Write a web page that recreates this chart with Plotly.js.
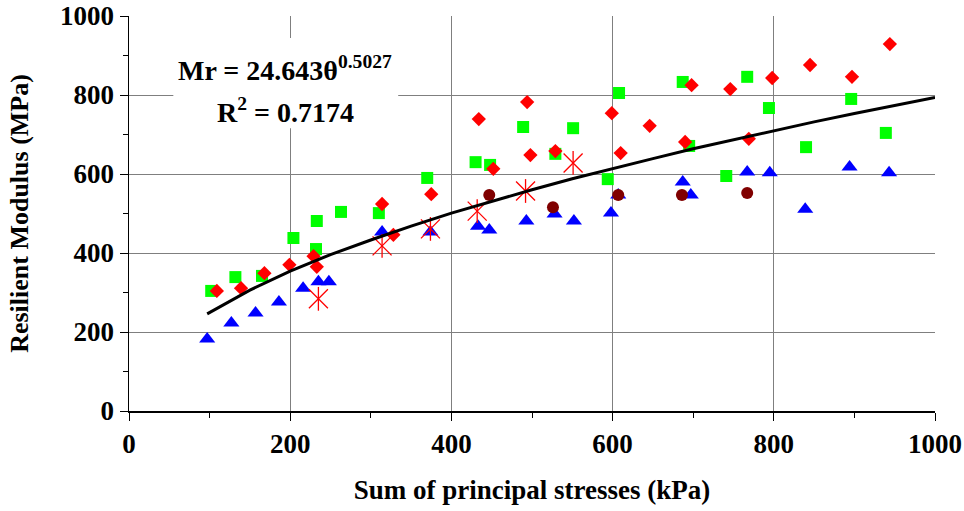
<!DOCTYPE html>
<html>
<head>
<meta charset="utf-8">
<script src="https://cdn.plot.ly/plotly-3.0.1.min.js"></script>
<style>html,body{margin:0;padding:0;background:#fff;}#chart{width:964px;height:511px;}</style>
</head>
<body>
<div id="chart"></div>
<script>
// Green squares
const greenX = [102,132,165,204,233,232,263,310,370,430,448,489,529,551,594,608,687,695,741,767,794,840,896,939];
const greenY = [304,339,342,438,481,410,504,501,590,630,623,719,651,716,587,805,833,671,595,846,767,668,790,704];
// Blue triangles
const blueX = [97,127,157,186,216,235,248,314,374,433,447,493,528,552,598,607,687,697,767,795,839,894,943];
const blueY = [182,223,248,276,311,327,327,453,453,468,458,481,499,481,501,547,580,547,605,603,511,618,603];
// Red diamonds
const redX = [109,139,168,199,229,233,314,328,375,434,452,494,498,529,599,610,646,690,698,746,769,798,845,897,944];
const redY = [304,311,349,370,392,365,524,446,549,739,613,782,648,658,754,653,722,681,825,815,689,843,876,846,929];
// Brown circles
const brownX = [447,526,607,686,767];
const brownY = [547,516,547,547,552];
// Red asterisks
const starX = [235,314,374,432,492,551];
const starY = [284,418,461,506,557,628];
// Trend line readings
const lineX = [97,150,200,250,300,350,400,450,500,550,600,650,700,750,800,850,900,950,1000];
const lineY = [246,306,354,396,433,468,501,531,560,588,614,639,664,687,710,732,753,774,794];

const tickVals = [0,200,400,600,800,1000];
const tickText = ['0','200','400','600','800','1000'];
const eqText = ['Mr = 24.643θ<sup>0.5027</sup>', 'R<sup>2</sup> = 0.7174'];

const traces = [
  {x: greenX, y: greenY, type:'scatter', mode:'markers', marker:{symbol:'square', size:12, color:'#00FF00'}},
  {x: blueX, y: blueY, type:'scatter', mode:'markers', marker:{symbol:'triangle-up', size:14, color:'#0000FF'}},
  {x: redX, y: redY, type:'scatter', mode:'markers', marker:{symbol:'diamond', size:11, color:'#FF0000'}},
  {x: brownX, y: brownY, type:'scatter', mode:'markers', marker:{symbol:'circle', size:12, color:'#800000'}},
  {x: starX, y: starY, type:'scatter', mode:'markers', marker:{symbol:'x-thin-open', size:19, color:'#FF0000', line:{color:'#FF0000', width:1.3}}},
  {x: starX, y: starY, type:'scatter', mode:'markers', marker:{symbol:'line-ns-open', size:17, color:'#FF0000', line:{color:'#FF0000', width:1.3}}},
  {x: lineX, y: lineY, type:'scatter', mode:'lines', line:{color:'#000000', width:3}}
];

const ff = '"Liberation Serif", "Times New Roman", serif';

const layout = {
  width:964, height:511,
  margin:{l:129, r:29, t:16, b:100},
  showlegend:false,
  paper_bgcolor:'#fff', plot_bgcolor:'#fff',
  font:{family:ff, color:'#000'},
  xaxis:{
    range:[0,1000], tickvals:tickVals, ticktext:tickText,
    showgrid:true, gridcolor:'#7f7f7f', gridwidth:1,
    zeroline:false, showline:true, linecolor:'#000', linewidth:1.5,
    ticks:'outside', ticklen:8, tickcolor:'#000',
    minor:{dtick:100, ticks:'outside', ticklen:5, tickcolor:'#000', showgrid:false},
    tickfont:{family:ff, size:27, weight:'bold', color:'#000'},
    title:{text:'<b>Sum of principal stresses (kPa)</b>', font:{family:ff, size:27, color:'#000'}, standoff:22}
  },
  yaxis:{
    range:[0,1000], tickvals:tickVals, ticktext:tickText,
    showgrid:true, gridcolor:'#7f7f7f', gridwidth:1,
    zeroline:false, showline:true, linecolor:'#000', linewidth:1.5,
    ticks:'outside', ticklen:8, tickcolor:'#000',
    minor:{dtick:100, ticks:'outside', ticklen:5, tickcolor:'#000', showgrid:false},
    tickfont:{family:ff, size:27, weight:'bold', color:'#000'},
    title:{text:'<b>Resilient Modulus (MPa)</b>', font:{family:ff, size:26, color:'#000'}, standoff:24}
  },
  shapes:[{type:'rect', xref:'x', yref:'y', x0:55, x1:334, y0:716, y1:944, fillcolor:'#ffffff', line:{width:0}, layer:'above'}],
  annotations:[
    {x:194, y:866, xref:'x', yref:'y', showarrow:false, text:'<b>'+eqText[0]+'</b>',
     font:{family:ff, size:28, color:'#000'}, xanchor:'center', yanchor:'middle'},
    {x:194, y:760, xref:'x', yref:'y', showarrow:false, text:'<b>'+eqText[1]+'</b>',
     font:{family:ff, size:28, color:'#000'}, xanchor:'center', yanchor:'middle'}
  ]
};

Plotly.newPlot('chart', traces, layout, {displayModeBar:false, staticPlot:true});
</script>
</body>
</html>
